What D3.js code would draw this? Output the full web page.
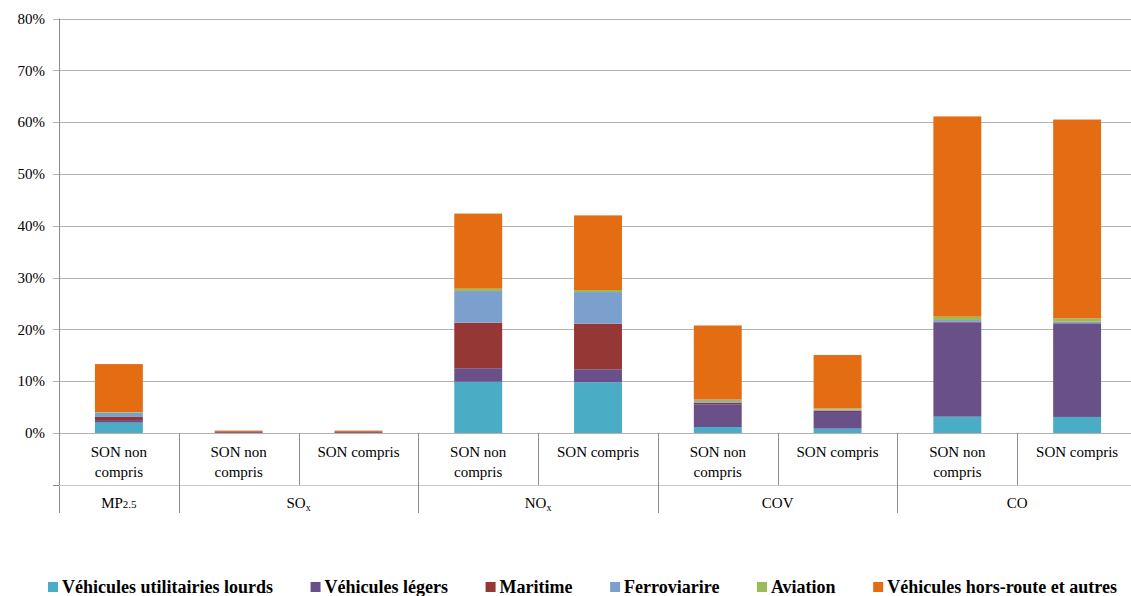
<!DOCTYPE html>
<html>
<head>
<meta charset="utf-8">
<script src="https://cdn.jsdelivr.net/npm/d3@7"></script>
<style>
  body { margin: 0; background: #fff; }
</style>
</head>
<body>
<div id="chart"></div>
<script>
// Data (percent)
const categories = ["SON non compris", "SON non compris", "SON compris", "SON non compris", "SON compris",
                    "SON non compris", "SON compris", "SON non compris", "SON compris"];
const groups = [
  {name: "MP", sub: "2.5", small: true, start: 0, end: 1},
  {name: "SO", sub: "x", small: false, start: 1, end: 3},
  {name: "NO", sub: "x", small: false, start: 3, end: 5},
  {name: "COV", sub: "", small: false, start: 5, end: 7},
  {name: "CO", sub: "", small: false, start: 7, end: 9}
];
const seriesNames = ["Véhicules utilitairies lourds", "Véhicules légers", "Maritime", "Ferroviarire", "Aviation", "Véhicules hors-route et autres"];
const lourds    = [2.0, 0.02, 0.02, 9.9, 9.8, 1.15, 0.85, 3.15, 3.1];
const legers    = [0.5, 0.02, 0.02, 2.6, 2.5, 4.4, 3.2, 18.2, 18.0];
const maritime  = [0.6, 0.28, 0.28, 8.8, 8.8, 0.3, 0.25, 0.1, 0.1];
const ferro     = [0.8, 0.02, 0.02, 6.1, 6.1, 0.3, 0.25, 0.35, 0.3];
const aviation  = [0.15, 0.01, 0.01, 0.45, 0.4, 0.3, 0.2, 0.65, 0.6];
const horsRoute = [9.25, 0.12, 0.12, 14.5, 14.4, 14.3, 10.3, 38.65, 38.4];
const yTicks = [0, 10, 20, 30, 40, 50, 60, 70, 80];

const colors = ["#4bacc6", "#6a5089", "#953735", "#7ba0cd", "#9bbb59", "#e46c12"];
const values = [lourds, legers, maritime, ferro, aviation, horsRoute];

const W = 1131, H = 596;
const plotLeft = 59, plotRight = 1137, plotTop = 18.5, plotBottom = 433;
const FONT = "Liberation Serif, Times New Roman, Times, Noto Serif, DejaVu Serif, FreeSerif, serif";

const svg = d3.select("#chart").append("svg")
  .attr("width", W)
  .attr("height", H)
  .style("font-family", FONT);

const x = d3.scaleBand()
  .domain(d3.range(categories.length))
  .range([plotLeft, plotRight])
  .paddingInner(0.6)
  .paddingOuter(0.3);
const slot = x.step();
const slotLeft = i => plotLeft + i * slot;

const y = d3.scaleLinear().domain([0, 80]).range([plotBottom, plotTop]);

// gridlines
svg.append("g")
  .selectAll("line")
  .data(yTicks)
  .enter().append("line")
  .attr("x1", plotLeft - 6).attr("x2", plotRight)
  .attr("y1", d => Math.round(y(d)) + 0.5).attr("y2", d => Math.round(y(d)) + 0.5)
  .attr("stroke", "#b3b3b3")
  .attr("stroke-width", 1);

// y labels
svg.append("g")
  .selectAll("text")
  .data(yTicks)
  .enter().append("text")
  .attr("x", 45)
  .attr("y", d => y(d))
  .attr("dy", "0.35em")
  .attr("text-anchor", "end")
  .style("font-size", "15px")
  .text(d => d + "%");

// stacked bars
const rows = categories.map((c, i) => {
  const r = {i: i};
  seriesNames.forEach((s, k) => { r[s] = values[k][i]; });
  return r;
});
const stacked = d3.stack().keys(seriesNames)(rows);

svg.append("g")
  .selectAll("g")
  .data(stacked)
  .enter().append("g")
  .attr("fill", (d, k) => colors[k])
  .selectAll("rect")
  .data(d => d)
  .enter().append("rect")
  .attr("x", d => x(d.data.i))
  .attr("width", x.bandwidth())
  .attr("y", d => y(d[1]))
  .attr("height", d => y(d[0]) - y(d[1]));

// category axis (two levels)
const axisG = svg.append("g");
const row1 = 485, row2 = 513;
axisG.append("line")
  .attr("x1", plotLeft + 0.5).attr("x2", plotLeft + 0.5)
  .attr("y1", plotTop).attr("y2", row2)
  .attr("stroke", "#8c8c8c");
axisG.append("line")
  .attr("x1", plotLeft - 6).attr("x2", plotRight)
  .attr("y1", row1 + 0.5).attr("y2", row1 + 0.5)
  .attr("stroke", "#c8c8c8");
axisG.append("line")
  .attr("x1", plotLeft - 6).attr("x2", plotLeft)
  .attr("y1", row1 + 0.5).attr("y2", row1 + 0.5)
  .attr("stroke", "#8c8c8c");

// separators
const groupEnds = groups.map(g => g.end);
d3.range(1, categories.length).forEach(i => {
  const isGroup = groupEnds.includes(i);
  axisG.append("line")
    .attr("x1", Math.round(slotLeft(i)) + 0.5).attr("x2", Math.round(slotLeft(i)) + 0.5)
    .attr("y1", plotBottom).attr("y2", isGroup ? row2 : row1)
    .attr("stroke", "#8c8c8c");
});

// category labels
categories.forEach((c, i) => {
  const cx = x(i) + x.bandwidth() / 2;
  const lines = c === "SON non compris" ? ["SON non", "compris"] : [c];
  lines.forEach((ln, j) => {
    axisG.append("text")
      .attr("x", cx)
      .attr("y", 457 + j * 20)
      .attr("text-anchor", "middle")
      .style("font-size", "15px")
      .text(ln);
  });
});

// group labels
groups.forEach(g => {
  const cx = (slotLeft(g.start) + slotLeft(g.end)) / 2;
  const t = axisG.append("text")
    .attr("x", cx)
    .attr("y", 508)
    .attr("text-anchor", "middle")
    .style("font-size", "15px");
  t.append("tspan").text(g.name);
  if (g.sub) {
    t.append("tspan")
      .attr("dy", g.small ? 0 : 3)
      .style("font-size", g.small ? "11px" : "10px")
      .text(g.sub);
  }
});

// legend: spread over the same span as the reference (48 -> 1117)
const legend = svg.append("g");
const legItems = seriesNames.map((s, k) => {
  const it = legend.append("g");
  it.append("rect")
    .attr("width", 10).attr("height", 10)
    .attr("y", -11)
    .attr("fill", colors[k]);
  const t = it.append("text")
    .attr("x", 14)
    .attr("y", 0)
    .style("font-size", "18px")
    .style("font-weight", "bold")
    .text(s);
  return {g: it, w: 14 + t.node().getComputedTextLength()};
});
const legStart = 48, legEnd = 1117;
const gap = (legEnd - legStart - d3.sum(legItems, d => d.w)) / (legItems.length - 1);
let lx = legStart;
legItems.forEach(d => {
  d.g.attr("transform", `translate(${lx},0)`);
  lx += d.w + gap;
});
legend.attr("transform", "translate(0,593)");
</script>
</body>
</html>
